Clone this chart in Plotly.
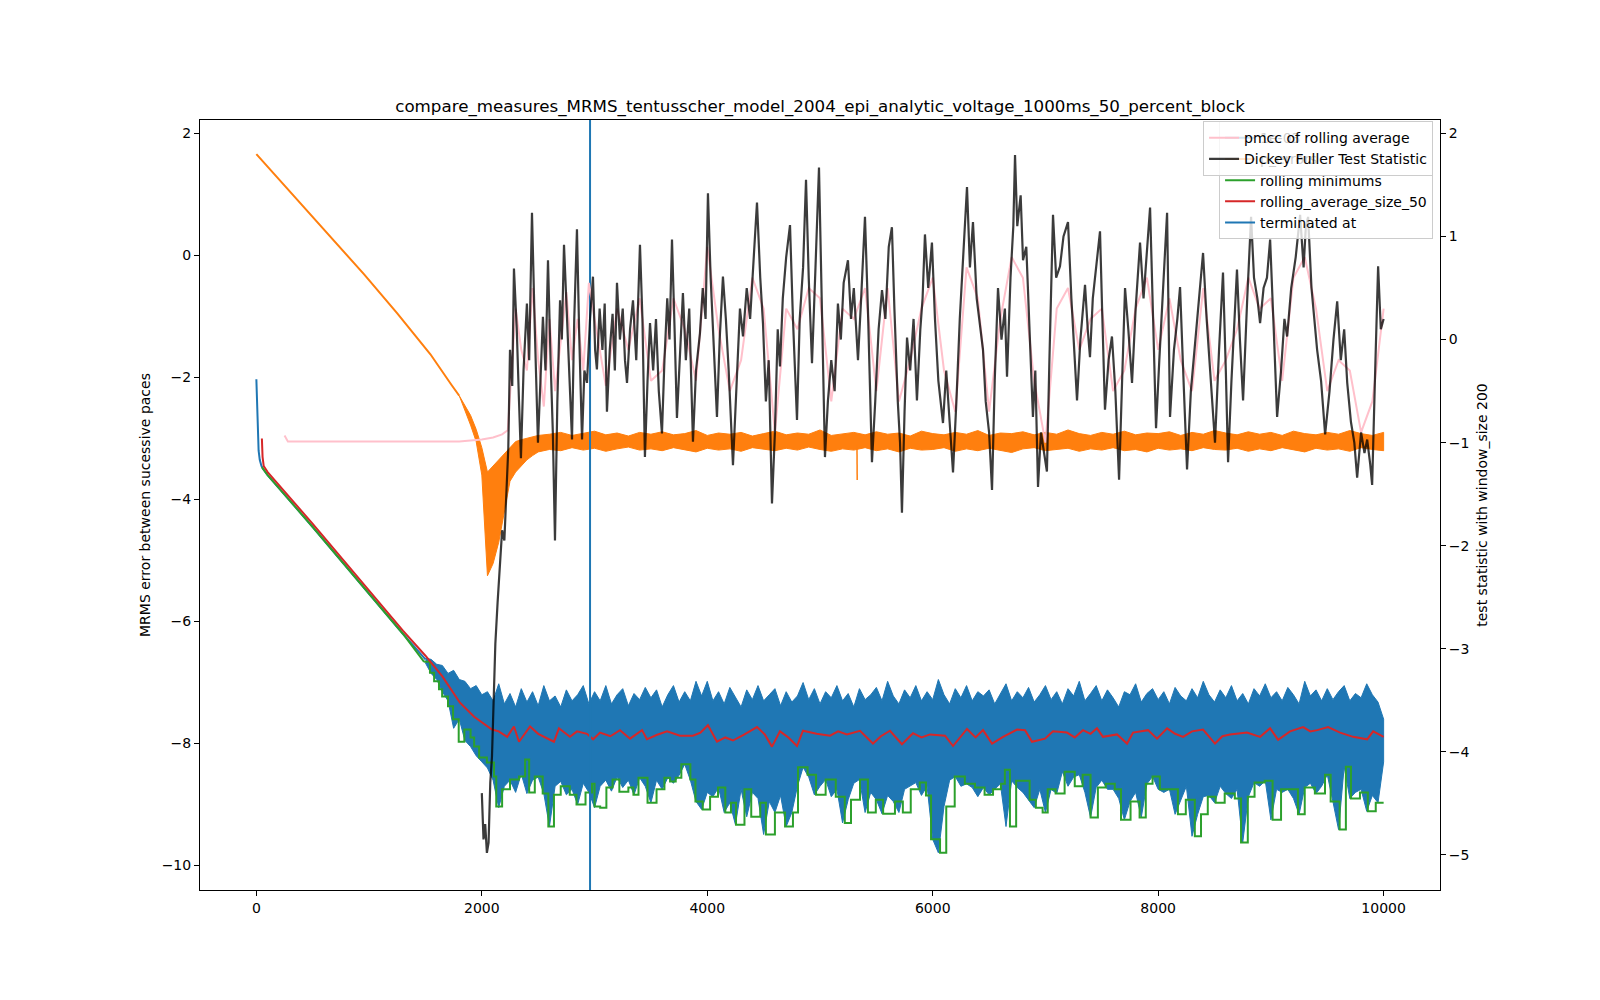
import plotly.graph_objects as go

# ---- data ----
TITLE = "compare_measures_MRMS_tentusscher_model_2004_epi_analytic_voltage_1000ms_50_percent_block"

# MRMS error (left axis), smooth start before the noise sets in
mrms_head_x = [0, 10, 20, 30, 45, 60, 100, 500, 741, 1000, 1300, 1500]
mrms_head_y = [-2.03, -2.85, -3.2, -3.35, -3.45, -3.5, -3.6, -4.45, -4.98, -5.55, -6.2, -6.62]

# noisy part of the MRMS error: upper / lower envelope every 50 paces from 1500 to 10000
mrms_band_x = list(range(1500, 10001, 50))
mrms_upper = [
    -6.60, -6.62, -6.70, -6.72, -6.85, -6.80, -6.95, -6.98, -7.10, -7.05,
    -7.20, -7.15, -7.30, -7.02, -7.35, -7.18, -7.40, -7.10, -7.32, -7.15,
    -7.38, -7.05, -7.30, -7.22, -7.40, -7.12, -7.30, -7.20, -7.05, -7.35,
    -7.15, -7.30, -7.05, -7.35, -7.20, -7.10, -7.38, -7.18, -7.28, -7.08,
    -7.25, -7.12, -7.40, -7.20, -7.05, -7.32, -7.15, -7.30, -6.98, -7.22,
    -6.98, -7.30, -7.15, -7.35, -7.08, -7.25, -7.40, -7.12, -7.28, -7.05,
    -7.30, -7.20, -7.10, -7.38, -7.15, -7.32, -7.22, -7.00, -7.28, -7.10,
    -7.35, -7.15, -7.25, -7.05, -7.30, -7.18, -7.40, -7.10, -7.28, -7.20,
    -7.08, -7.30, -6.98, -7.22, -7.35, -7.12, -7.25, -7.05, -7.30, -7.15,
    -7.28, -6.95, -7.20, -7.35, -7.10, -7.25, -7.05, -7.30, -7.15, -7.22,
    -7.12, -7.35, -7.18, -7.02, -7.30, -7.15, -7.25, -7.08, -7.32, -7.20,
    -7.05, -7.28, -7.15, -7.35, -7.10, -7.22, -6.98, -7.30, -7.18, -7.05,
    -7.30, -7.12, -7.25, -7.40, -7.15, -7.20, -7.02, -7.32, -7.18, -7.10,
    -7.28, -7.15, -7.35, -7.08, -7.22, -7.30, -7.10, -7.25, -6.98, -7.20,
    -7.32, -7.12, -7.25, -7.05, -7.30, -7.18, -7.35, -7.10, -7.22, -7.02,
    -7.25, -7.15, -7.30, -7.08, -7.20, -7.35, -6.98, -7.22, -7.12, -7.30,
    -7.10, -7.28, -7.15, -7.05, -7.30, -7.18, -7.25, -7.02, -7.20, -7.32,
    -7.60,
]
mrms_lower = [
    -6.68, -6.85, -6.95, -7.15, -7.30, -7.75, -7.60, -7.95, -8.05, -8.20,
    -8.30, -8.40, -8.60, -9.05, -8.70, -8.60, -8.80, -8.50, -8.82, -8.60,
    -8.55, -8.82, -9.36, -8.70, -8.62, -8.84, -8.75, -9.00, -8.65, -8.80,
    -9.05, -8.70, -8.60, -8.78, -8.55, -8.72, -8.60, -8.84, -8.56, -8.70,
    -8.97, -8.60, -8.75, -8.56, -8.65, -8.52, -8.34, -8.60, -8.95, -9.08,
    -8.80, -8.87, -8.72, -9.13, -8.97, -9.33, -8.75, -9.20, -8.80, -8.90,
    -9.49, -8.95, -9.13, -8.85, -9.36, -9.13, -8.70, -8.39, -8.55, -8.84,
    -8.70, -8.59, -8.87, -8.75, -9.30, -8.92, -8.65, -8.59, -9.13, -8.80,
    -8.92, -9.15, -8.85, -8.95, -9.13, -8.75, -8.70, -8.64, -8.85, -8.70,
    -9.57, -9.79, -9.03, -8.60, -8.54, -8.70, -8.66, -8.72, -8.87, -8.72,
    -8.84, -8.75, -8.66, -9.36, -8.61, -8.72, -8.80, -8.92, -9.05, -8.75,
    -9.13, -8.75, -8.82, -8.46, -8.70, -8.55, -8.51, -8.80, -9.21, -8.72,
    -8.60, -8.75, -8.75, -8.90, -9.25, -8.95, -8.80, -9.21, -8.66, -8.54,
    -8.75, -8.80, -8.75, -9.16, -8.92, -8.70, -9.52, -9.16, -8.87, -8.85,
    -8.97, -8.70, -8.82, -8.90, -8.75, -9.62, -8.87, -8.64, -8.70, -8.61,
    -9.25, -8.75, -8.80, -8.75, -8.90, -9.16, -8.72, -8.65, -8.82, -8.70,
    -8.51, -8.95, -9.41, -8.38, -8.90, -8.80, -8.75, -9.11, -8.85, -8.97,
    -8.30,
]

# second left-axis series (orange): smooth fall, then a thin noisy band
orange_head_x = [0, 500, 956, 1250, 1544, 1730, 1800]
orange_head_y = [1.66, 0.63, -0.31, -0.95, -1.62, -2.12, -2.30]
orange_band_x = [1800, 1850, 1900, 1950, 2000, 2050, 2100, 2150, 2200, 2250, 2300, 2350,
                 2400, 2450, 2500] + list(range(2600, 10001, 100))
orange_upper = [
    -2.30, -2.45, -2.62, -2.85, -3.15, -3.55, -3.45, -3.35, -3.25, -3.16, -3.05, -3.02,
    -3.00, -2.98, -2.95,
    -2.93, -2.90, -2.95, -2.92, -2.88, -2.94, -2.91, -2.96, -2.90, -2.93,
    -2.89, -2.94, -2.92, -2.87, -2.95, -2.91, -2.93, -2.90, -2.96, -2.92,
    -2.88, -2.94, -2.91, -2.93, -2.86, -2.95, -2.92, -2.90, -2.94, -2.89,
    -2.93, -2.91, -2.96, -2.88, -2.92, -2.94, -2.90, -2.93, -2.87, -2.95,
    -2.91, -2.92, -2.89, -2.94, -2.90, -2.93, -2.86, -2.92, -2.95, -2.90,
    -2.93, -2.88, -2.94, -2.91, -2.92, -2.89, -2.95, -2.90, -2.93, -2.87,
    -2.91, -2.94, -2.89, -2.93, -2.90, -2.95, -2.88, -2.92, -2.94, -2.90,
    -2.93, -2.87, -2.92, -2.95, -2.90,
]
orange_lower = [
    -2.30, -2.55, -2.78, -3.05, -3.60, -5.25, -5.05, -4.70, -4.20, -3.70, -3.55, -3.45,
    -3.35, -3.28, -3.22,
    -3.18, -3.20, -3.15, -3.19, -3.16, -3.21, -3.17, -3.14, -3.19, -3.17,
    -3.20, -3.15, -3.18, -3.22, -3.16, -3.19, -3.17, -3.21, -3.15, -3.18,
    -3.20, -3.16, -3.19, -3.14, -3.18, -3.21, -3.17, -3.19, -3.15, -3.20,
    -3.17, -3.22, -3.16, -3.19, -3.18, -3.15, -3.21, -3.17, -3.20, -3.16,
    -3.19, -3.23, -3.17, -3.15, -3.20, -3.18, -3.16, -3.21, -3.17, -3.19,
    -3.15, -3.20, -3.18, -3.22, -3.16, -3.19, -3.17, -3.20, -3.15, -3.18,
    -3.19, -3.16, -3.21, -3.17, -3.20, -3.15, -3.18, -3.22, -3.16, -3.19,
    -3.17, -3.21, -3.15, -3.18, -3.20,
]
orange_spike_x = [5328, 5330]
orange_spike_y = [-3.10, -3.68]

# rolling minimums: straight start, then a step line
min_head_x = [49, 100, 500, 741, 1000, 1300, 1488]
min_head_y = [-3.47, -3.60, -4.45, -4.98, -5.55, -6.20, -6.66]
min_x = [1488, 1540, 1577, 1620, 1648, 1700, 1745, 1795, 1845,
         1900, 1932, 1976, 2045, 2108, 2128, 2180, 2250, 2330, 2384, 2420, 2470, 2540, 2590,
         2640, 2700, 2780, 2840, 2920, 2977, 3000, 3050, 3105, 3160, 3220, 3300, 3345, 3390,
         3470, 3550, 3620, 3670, 3720, 3770, 3850, 3895, 3960, 4025, 4095, 4160, 4210, 4255,
         4330, 4390, 4470, 4520, 4600, 4690, 4760, 4805, 4890, 4965, 5050, 5140, 5220, 5275,
         5355, 5425, 5495, 5560, 5665, 5735, 5805, 5885, 5940, 5985, 6065, 6120, 6195, 6285,
         6375, 6460, 6535, 6605, 6640, 6685, 6740, 6860, 6915, 6975, 7020, 7090, 7170, 7260,
         7330, 7400, 7465, 7535, 7615, 7670, 7755, 7835, 7890, 7950, 8015, 8100, 8175, 8245,
         8325, 8380, 8440, 8510, 8590, 8680, 8735, 8795, 8855, 8945, 9015, 9090, 9240, 9300,
         9390, 9480, 9530, 9610, 9665, 9710, 9790, 9860, 9930, 10000]
min_y = [-6.66, -6.84, -6.98, -7.11, -7.23, -7.39,
         -7.60, -7.97, -7.77, -7.90, -8.05, -8.23, -8.31, -8.54, -9.03, -8.75, -8.59, -8.54,
         -8.26, -8.80, -8.54, -8.82, -9.36, -8.84, -8.70, -8.84, -9.00, -8.80, -8.66, -9.03,
         -9.05, -8.72, -8.59, -8.79, -8.72, -8.84, -8.56, -8.97, -8.75, -8.56, -8.62, -8.56,
         -8.34, -8.59, -8.95, -9.08, -8.87, -8.72, -9.13, -8.97, -9.33, -8.75, -9.20, -8.97,
         -9.49, -9.13, -9.36, -9.13, -8.39, -8.51, -8.84, -8.59, -8.87, -9.30, -8.92, -8.59,
         -9.13, -8.92, -9.15, -8.95, -9.13, -8.75, -8.64, -8.85, -9.57, -9.79, -9.03, -8.54,
         -8.66, -8.72, -8.84, -8.75, -8.66, -8.43, -9.36, -8.61, -8.92, -9.05, -9.13, -8.75,
         -8.82, -8.46, -8.70, -8.51, -9.21, -8.72, -8.66, -8.75, -9.25, -8.95, -9.21, -8.66,
         -8.54, -8.75, -8.75, -9.16, -8.92, -9.52, -9.16, -8.87, -8.97, -8.82, -8.90, -9.62,
         -8.87, -8.64, -8.61, -9.25, -8.75, -9.16, -8.72, -8.82, -8.51, -8.95, -9.41, -8.38,
         -8.90, -8.80, -9.11, -8.97, -8.97]

avg_x = [49, 55, 65, 100, 500, 741, 1000, 1300, 1500, 1650, 1806, 1932, 2090, 2150, 2225, 2285,
         2330, 2428, 2500, 2640, 2684, 2782, 2844, 2933, 2987, 3049, 3140, 3226, 3315, 3421,
         3465, 3550, 3643, 3758, 3873, 3940, 4006, 4086, 4160, 4228, 4330, 4441, 4510, 4574,
         4645, 4720, 4796, 4849, 4970, 5089, 5160, 5239, 5355, 5470, 5540, 5621, 5727, 5825,
         5900, 5976, 6109, 6180, 6304, 6380, 6446, 6526, 6624, 6748, 6819, 6881, 6996, 7067,
         7191, 7260, 7333, 7400, 7457, 7510, 7635, 7724, 7777, 7910, 7990, 8079, 8150, 8221,
         8300, 8398, 8504, 8570, 8637, 8788, 8904, 8993, 9064, 9170, 9286, 9350, 9410, 9507,
         9614, 9729, 9854, 9907, 10000]
avg_y = [-3.00, -3.30, -3.45, -3.55, -4.40, -4.93, -5.50, -6.15, -6.56, -6.90, -7.33, -7.56,
         -7.77, -7.80, -7.89, -7.72, -7.97, -7.72, -7.84, -7.97, -7.75, -7.89, -7.80, -7.84,
         -7.93, -7.82, -7.88, -7.78, -7.92, -7.78, -7.93, -7.86, -7.80, -7.87, -7.87, -7.82,
         -7.70, -7.97, -7.90, -7.95, -7.85, -7.73, -7.85, -8.05, -7.80, -7.90, -8.04, -7.79,
         -7.84, -7.87, -7.80, -7.85, -7.79, -8.00, -7.88, -7.79, -8.01, -7.83, -7.90, -7.85,
         -7.87, -8.04, -7.76, -7.90, -7.78, -8.00, -7.89, -7.77, -7.78, -7.97, -7.92, -7.80,
         -7.82, -7.90, -7.78, -7.84, -7.75, -7.89, -7.85, -8.00, -7.82, -7.78, -7.92, -7.75,
         -7.84, -7.89, -7.80, -7.77, -8.00, -7.88, -7.85, -7.82, -7.89, -7.75, -7.94, -7.80,
         -7.73, -7.80, -7.78, -7.73, -7.82, -7.89, -7.93, -7.80, -7.89]

terminated_at = 2960

# right axis: pmcc of rolling average and Dickey Fuller statistic
pmcc_x = [250, 280, 1800, 1900, 2000, 2100, 2180, 2230, 2260, 2300, 2350, 2400, 2450, 2500,
          2550, 2600, 2650, 2700, 2750, 2800, 2850, 2900, 2950] + list(range(3000, 10001, 100))
pmcc_y = [-0.93, -0.99, -0.99, -0.98, -0.97, -0.95, -0.92, -0.88, -0.40, 0.30, -0.10, -0.30,
          0.50, -0.20, -0.65, 0.20, -0.50, 0.00, 0.46, -0.20, 0.20, -0.30, 0.55,
          0.20, -0.45, 0.30, -0.10, 0.40, -0.40, -0.30, 0.40, 0.10, -0.40,
          0.90, 0.10, -0.50, -0.20, 0.60, 0.30, -0.90, 0.30, 0.10, 0.50,
          0.40, -0.60, 0.30, 0.20, 0.50, -0.50, 0.50, -0.60, -0.20, 0.30,
          0.60, -0.30, -0.70, 0.70, 0.40, -0.70, 0.20, 0.80, 0.60, -0.40,
          -1.00, 0.30, 0.50, -0.10, 0.20, 0.30, -0.50, -0.30, 0.30, 0.60,
          -0.10, 0.40, -0.20, -0.50, 0.50, -0.40, -0.20, 0.10, 0.60, 0.30,
          0.40, -0.40, 0.60, 0.80, 0.30, -0.50, -0.20, -0.30, -0.90, -0.60,
          0.30]

df_x = [2000, 2015, 2030, 2045, 2060, 2075, 2090, 2105, 2120, 2140, 2160, 2180, 2200, 2215,
        2235, 2250, 2270, 2285, 2310, 2330, 2347, 2370, 2400, 2420, 2445, 2470, 2498, 2520,
        2542, 2565, 2587, 2610, 2630, 2649, 2670, 2694, 2710, 2729, 2760, 2780, 2800, 2820,
        2844, 2865, 2889, 2910, 2933, 2960, 2986, 3005, 3021, 3045, 3070, 3090, 3110, 3135,
        3160, 3180, 3199, 3225, 3250, 3270, 3288, 3315, 3341, 3370, 3403, 3425, 3447, 3470,
        3492, 3520, 3545, 3570, 3598, 3620, 3645, 3665, 3687, 3710, 3731, 3760, 3784, 3810,
        3840, 3873, 3900, 3935, 3960, 3985, 4006, 4030, 4060, 4086, 4110, 4139, 4165, 4190,
        4228, 4260, 4290, 4317, 4350, 4380, 4410, 4441, 4470, 4494, 4520, 4545, 4574, 4600,
        4625, 4645, 4670, 4700, 4734, 4760, 4796, 4820, 4850, 4876, 4900, 4929, 4960, 4991,
        5015, 5044, 5070, 5100, 5130, 5159, 5185, 5210, 5248, 5275, 5300, 5337, 5365, 5399,
        5425, 5461, 5490, 5520, 5550, 5580, 5610, 5638, 5660, 5690, 5710, 5727, 5750, 5772,
        5800, 5830, 5860, 5890, 5910, 5931, 5960, 5993, 6020, 6050, 6091, 6120, 6150, 6180,
        6210, 6240, 6270, 6304, 6330, 6357, 6390, 6420, 6446, 6470, 6500, 6526, 6550, 6579,
        6610, 6640, 6659, 6690, 6715, 6730, 6750, 6780, 6801, 6830, 6860, 6889, 6910, 6934,
        6960, 6990, 7013, 7035, 7067, 7095, 7129, 7160, 7200, 7230, 7255, 7280, 7310, 7351,
        7375, 7395, 7420, 7450, 7484, 7505, 7528, 7560, 7590, 7620, 7653, 7680, 7706, 7735,
        7768, 7800, 7839, 7870, 7900, 7928, 7955, 7981, 8010, 8045, 8079, 8105, 8140, 8170,
        8194, 8225, 8256, 8290, 8327, 8360, 8398, 8430, 8465, 8504, 8540, 8575, 8600, 8620,
        8650, 8675, 8699, 8725, 8753, 8790, 8824, 8850, 8880, 8904, 8935, 8965, 8993, 9025,
        9055, 9090, 9120, 9144, 9180, 9220, 9259, 9290, 9310, 9330, 9360, 9385, 9410, 9445,
        9481, 9520, 9555, 9588, 9620, 9650, 9677, 9710, 9740, 9765, 9800, 9830, 9854, 9880,
        9898, 9925, 9951, 9975, 10000]
df_stat = [-4.40, -4.85, -4.70, -4.98, -4.88, -4.30, -4.05, -3.45, -2.95, -2.55, -2.20, -1.85,
           -1.95, -1.55, -1.05, -0.10, -0.45, 0.69, 0.10, -0.60, -1.15, -0.30, 0.35, -0.20,
           1.23, 0.10, -1.00, -0.40, 0.22, -0.30, 0.77, -0.20, -0.90, -1.95, -0.60, 0.38,
           0.00, 0.92, 0.10, -0.40, -0.97, 0.20, 1.07, 0.00, -0.97, -0.30, -0.42, 0.20,
           0.61, -0.10, -0.29, 0.30, -0.10, 0.35, -0.70, -0.10, 0.25, -0.30, 0.55, 0.00,
           0.30, -0.20, -0.42, 0.10, 0.38, -0.20, 0.92, 0.20, -1.14, -0.40, 0.16, -0.30,
           0.20, -0.50, -0.91, -0.20, 0.40, 0.00, 0.97, 0.10, -0.76, -0.10, 0.45, -0.20,
           0.30, -0.99, -0.30, 0.06, 0.50, 0.20, 1.42, 0.60, -0.10, -0.75, 0.00, 0.61,
           0.20, -0.30, -1.22, -0.50, 0.30, 0.03, 0.50, 0.20, 0.80, 1.33, 0.60, 0.16,
           -0.60, -0.20, -1.59, -0.90, 0.10, -0.26, 0.40, 0.80, 1.11, 0.20, -0.78, 0.20,
           0.70, 1.55, 0.60, -0.23, 0.70, 1.67, 0.40, -1.14, -0.60, -0.20, -0.50, 0.35,
           0.00, 0.55, 0.77, 0.20, 0.50, -0.20, 0.40, 1.19, 0.30, -1.19, -0.60, 0.10,
           0.48, 0.20, 0.90, 1.09, 0.30, -0.60, -1.00, -1.68, -0.70, 0.02, -0.30, 0.20,
           -0.59, 0.10, 0.40, 1.02, 0.50, 0.94, 0.20, -0.40, -0.81, -0.30, -0.80, -1.29,
           -0.60, 0.20, 0.80, 1.48, 0.70, 1.14, 0.40, 0.10, -0.10, -0.60, -0.90, -1.46,
           -0.40, 0.50, 0.00, 0.30, -0.36, 0.60, 1.10, 1.79, 1.10, 1.40, 0.77, 0.90,
           0.00, -0.75, -0.30, -1.43, -0.90, -1.10, -1.28, -0.20, 1.21, 0.60, 0.71, 1.00,
           1.14, 0.40, -0.10, -0.59, 0.00, 0.53, 0.10, -0.17, 0.40, 0.70, 1.05, 0.20,
           -0.68, -0.20, 0.03, -0.50, -1.36, -0.40, 0.50, 0.10, -0.42, 0.30, 0.94, 0.40,
           0.90, 1.28, 0.20, -0.86, -0.20, 0.60, 1.23, -0.75, -0.10, 0.20, 0.51, -0.40,
           -1.26, -0.50, -0.03, 0.40, 0.84, 0.20, -0.40, -1.00, -0.10, 0.65, -0.30, -1.19,
           -0.40, 0.20, 0.68, 0.00, -0.59, 0.40, 1.19, 0.60, 0.40, 0.16, 0.50, 0.60,
           0.97, 0.10, -0.75, -0.30, 0.20, 0.03, 0.50, 0.80, 1.21, 0.70, 1.10, 1.19,
           0.50, 0.20, -0.10, -0.40, -0.92, -0.50, 0.00, 0.37, -0.20, 0.10, -0.42, -0.80,
           -1.00, -1.34, -0.90, -1.10, -0.97, -1.20, -1.41, -0.30, 0.71, 0.10, 0.20]

X_RANGE = [-500, 10500]
LEFT_RANGE = [-10.40, 2.22]
RIGHT_RANGE = [-5.34, 2.13]

C0, C1, C2, C3 = "#1f77b4", "#ff7f0e", "#2ca02c", "#d62728"
FONT = "DejaVu Sans"

fig = go.Figure()

# left axis traces (drawn first, below the twin axis)
fig.add_trace(go.Scatter(x=mrms_head_x, y=mrms_head_y, mode="lines", name="1e-03",
                         line=dict(color=C0, width=2), legendgroup="mrms", legend="legend"))
fig.add_trace(go.Scatter(x=mrms_band_x + mrms_band_x[::-1], y=mrms_upper + mrms_lower[::-1],
                         mode="lines", fill="toself", fillcolor=C0, line=dict(color=C0, width=1),
                         legendgroup="mrms", showlegend=False, hoverinfo="skip"))
fig.add_trace(go.Scatter(x=orange_head_x, y=orange_head_y, mode="lines", name="p_errors",
                         line=dict(color=C1, width=2), legendgroup="orange", legend="legend"))
fig.add_trace(go.Scatter(x=orange_band_x + orange_band_x[::-1], y=orange_upper + orange_lower[::-1],
                         mode="lines", fill="toself", fillcolor=C1, line=dict(color=C1, width=1),
                         legendgroup="orange", showlegend=False, hoverinfo="skip"))
fig.add_trace(go.Scatter(x=orange_spike_x, y=orange_spike_y, mode="lines",
                         line=dict(color=C1, width=1.5), legendgroup="orange", showlegend=False))
fig.add_trace(go.Scatter(x=min_head_x, y=min_head_y, mode="lines", name="rolling minimums",
                         line=dict(color=C2, width=2), legendgroup="min", legend="legend"))
fig.add_trace(go.Scatter(x=min_x, y=min_y, mode="lines", line=dict(color=C2, width=2, shape="hv"),
                         legendgroup="min", showlegend=False))
fig.add_trace(go.Scatter(x=avg_x, y=avg_y, mode="lines", name="rolling_average_size_50",
                         line=dict(color=C3, width=2), legend="legend"))
fig.add_trace(go.Scatter(x=[terminated_at, terminated_at], y=LEFT_RANGE, mode="lines",
                         name="terminated at", line=dict(color=C0, width=2), legend="legend"))

# right axis traces
fig.add_trace(go.Scatter(x=pmcc_x, y=pmcc_y, mode="lines", name="pmcc of rolling average",
                         line=dict(color="#ffc0cb", width=2), yaxis="y2", legend="legend2"))
fig.add_trace(go.Scatter(x=df_x, y=df_stat, mode="lines", name="Dickey Fuller Test Statistic",
                         line=dict(color="rgba(0,0,0,0.77)", width=2.2), yaxis="y2",
                         legend="legend2"))

axis_common = dict(showgrid=False, zeroline=False, showline=True, linecolor="black",
                   linewidth=1, ticks="outside", ticklen=5, tickwidth=1, tickcolor="black",
                   tickfont=dict(size=14, family=FONT, color="black"))

legend_common = dict(xref="paper", yref="paper", xanchor="right", yanchor="top",
                     bgcolor="rgba(255,255,255,0.8)", bordercolor="#cccccc", borderwidth=1,
                     font=dict(size=14, family=FONT, color="black"), traceorder="normal",
                     tracegroupgap=0, itemwidth=30)

# the page body has an 8px margin, so the figure is kept 16px smaller and the
# margins are shifted to keep the plot area where the reference has it
fig.update_layout(
    width=1584,
    height=984,
    autosize=False,
    margin=dict(l=192, r=152, t=112, b=102),
    paper_bgcolor="white",
    plot_bgcolor="white",
    font=dict(family=FONT, size=14, color="black"),
    title=dict(text=TITLE, x=0.5, xref="paper", xanchor="center",
               y=0.9004, yref="container", yanchor="middle",
               font=dict(size=16.7, family=FONT, color="black")),
    xaxis=dict(range=X_RANGE, tickvals=[0, 2000, 4000, 6000, 8000, 10000],
               ticktext=["0", "2000", "4000", "6000", "8000", "10000"],
               mirror=True, **axis_common),
    yaxis=dict(range=LEFT_RANGE, tickvals=[-10, -8, -6, -4, -2, 0, 2],
               title=dict(text="MRMS error between sucessive paces", standoff=7,
                          font=dict(size=14, family=FONT, color="black")),
               **axis_common),
    yaxis2=dict(range=RIGHT_RANGE, overlaying="y", side="right",
                tickvals=[-5, -4, -3, -2, -1, 0, 1, 2],
                title=dict(text="test statistic with window_size 200", standoff=8,
                           font=dict(size=14, family=FONT, color="black")),
                **axis_common),
    legend=dict(x=0.9944, y=0.9985, **legend_common),
    legend2=dict(x=0.9944, y=0.9985, **legend_common),
    hovermode=False,
)

fig.write_html("out.html")
